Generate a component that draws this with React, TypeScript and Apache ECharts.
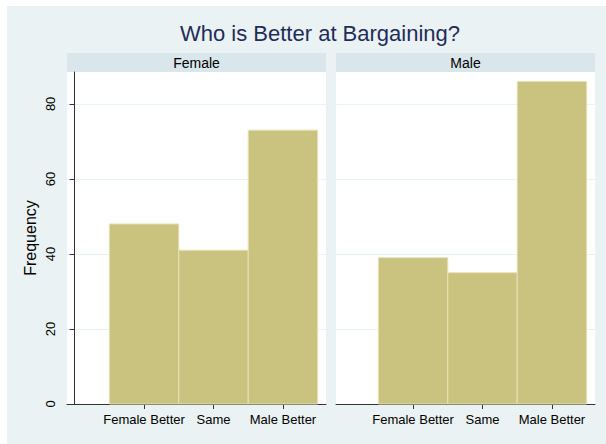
import React, { useEffect, useRef } from "react";
import * as echarts from "echarts";

const categories = ["Female Better", "Same", "Male Better"];
const panels = ["Female", "Male"];
const femaleValues = [48, 41, 73];
const maleValues = [39, 35, 86];
const yTicks = [0, 20, 40, 60, 80];

const FONT = "Liberation Sans, Arial, sans-serif";

export default function App() {
  const ref = useRef<HTMLDivElement>(null);
  useEffect(() => {
    if (!ref.current) return;
    const chart = echarts.init(ref.current, undefined, { renderer: "svg" });
    const gridTop = 66;
    const gridH = 332;
    const gridW = 259;
    const lefts = [60, 329];

    const renderBar = (params: any, api: any) => {
      const x = api.value(0);
      const y = api.value(1);
      const p1 = api.coord([x - 0.5, y]);
      const p2 = api.coord([x + 0.5, 0]);
      return {
        type: "rect",
        shape: { x: p1[0], y: p1[1], width: p2[0] - p1[0], height: p2[1] - p1[1] },
        style: { fill: "#CAC27F", stroke: "#E6E1B9", lineWidth: 1 },
      };
    };

    const xAxisBase = (i: number) => ({
      type: "value",
      gridIndex: i,
      min: -0.11,
      max: 3.62,
      axisLine: { show: true, lineStyle: { color: "#333", width: 1 } },
      axisTick: { show: true, length: 5, customValues: [1, 2, 3], lineStyle: { color: "#333" } },
      axisLabel: {
        customValues: [1, 2, 3],
        formatter: (v: number) => (Number.isInteger(v) && v >= 1 && v <= 3 ? categories[v - 1] : ""),
        color: "#000",
        fontSize: 13,
        fontFamily: FONT,
        margin: 9,
      },
      splitLine: { show: false },
    });

    const yAxisBase = (i: number) => ({
      type: "value",
      gridIndex: i,
      min: 0,
      max: 88.5,
      name: i === 0 ? "Frequency" : "",
      nameLocation: "middle",
      nameGap: 29,
      nameTextStyle: { color: "#000", fontSize: 16, fontFamily: FONT },
      axisLine: { show: i === 0, lineStyle: { color: "#333", width: 1 } },
      axisTick: { show: i === 0, length: 5, customValues: yTicks, lineStyle: { color: "#333" } },
      axisLabel: {
        show: i === 0,
        customValues: yTicks,
        rotate: 90,
        color: "#000",
        fontSize: 13,
        fontFamily: FONT,
        margin: 10,
      },
      splitLine: { show: true, lineStyle: { color: "#EAF2F3", width: 1 } },
    });

    const graphic: any[] = [
      {
        type: "text",
        x: 313,
        y: 27,
        style: {
          text: "Who is Better at Bargaining?",
          fill: "#1E2D5A",
          font: `22px ${FONT}`,
          textAlign: "center",
          textVerticalAlign: "middle",
        },
      },
    ];
    panels.forEach((p, i) => {
      graphic.push({
        type: "rect",
        x: lefts[i],
        y: 47,
        shape: { width: gridW, height: 19 },
        style: { fill: "#D9E6EB" },
      });
      graphic.push({
        type: "text",
        x: lefts[i] + gridW / 2,
        y: 56.5,
        style: {
          text: p,
          fill: "#000",
          font: `14px ${FONT}`,
          textAlign: "center",
          textVerticalAlign: "middle",
        },
      });
    });

    chart.setOption({
      animation: false,
      backgroundColor: "#EAF2F3",
      grid: lefts.map((l) => ({
        left: l,
        top: gridTop,
        width: gridW,
        height: gridH,
        show: true,
        backgroundColor: "#FFFFFF",
        borderWidth: 0,
      })),
      xAxis: [xAxisBase(0), xAxisBase(1)],
      yAxis: [yAxisBase(0), yAxisBase(1)],
      series: [femaleValues, maleValues].map((vals, i) => ({
        type: "custom",
        xAxisIndex: i,
        yAxisIndex: i,
        renderItem: renderBar,
        encode: { x: 0, y: 1 },
        data: vals.map((v, j) => [j + 1, v]),
      })),
      graphic,
    });
    return () => chart.dispose();
  }, []);
  return (
    <div
      ref={ref}
      style={{ position: "absolute", left: 7, top: 6, width: 599, height: 438 }}
    />
  );
}
